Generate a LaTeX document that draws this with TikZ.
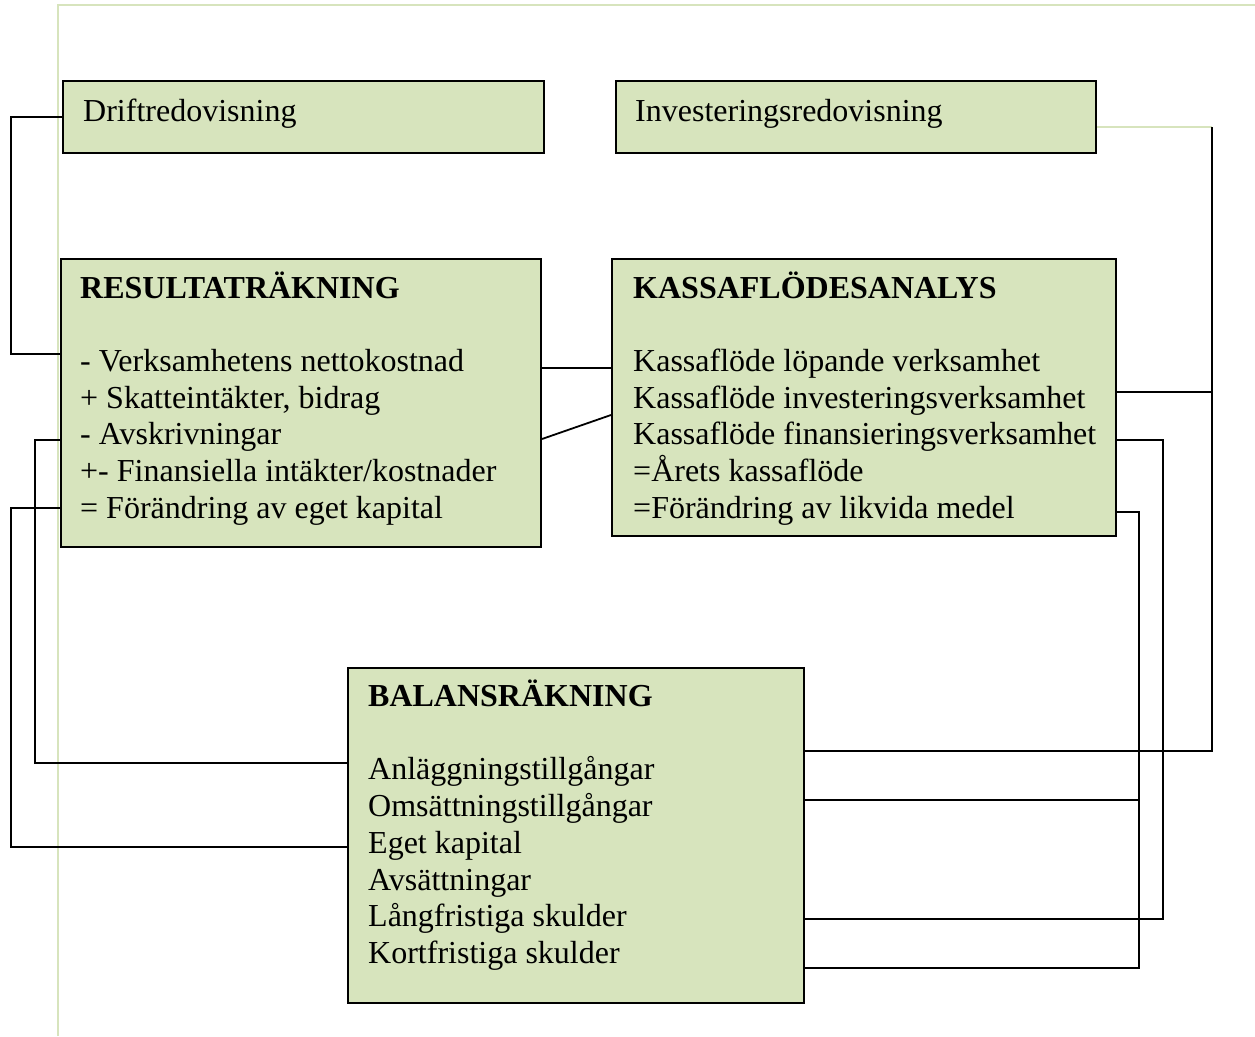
\documentclass[tikz,border=0pt]{standalone}
\usepackage{fontspec}
\setmainfont{Liberation Serif}
\definecolor{boxfill}{RGB}{215,228,189}
\definecolor{pageline}{RGB}{215,228,189}
\begin{document}
\begin{tikzpicture}[x=1pt,y=-1pt,
  box/.style={draw=black,line width=2pt,fill=boxfill,rectangle,inner sep=0pt,anchor=north west},
  txt/.style={anchor=base west,inner sep=0pt,font=\fontsize{32}{37}\selectfont},
  ttl/.style={anchor=base west,inner sep=0pt,font=\fontsize{32}{37}\selectfont\bfseries},
  conn/.style={draw=black,line width=1.8pt},
  lconn/.style={draw=pageline,line width=2pt}]
\useasboundingbox (0,0) rectangle (1255,1036);
% page border
\draw[lconn] (58,1036) -- (58,5) -- (1255,5);
% boxes
\node[box,minimum width=481pt,minimum height=72pt] (drift) at (62,80) {};
\node[box,minimum width=480pt,minimum height=72pt] (inv) at (615,80) {};
\node[box,minimum width=480pt,minimum height=288pt] (res) at (60,258) {};
\node[box,minimum width=504pt,minimum height=277pt] (kas) at (611,258) {};
\node[box,minimum width=456pt,minimum height=335pt] (bal) at (347,667) {};
% texts
\node[txt] (tdrift) at (83,121) {Driftredovisning};
\node[txt] (tinv) at (635,121) {Investeringsredovisning};
\node[ttl] (tres) at (80,298) {RESULTATRÄKNING};
\node[txt] (r1) at (80,371) {- Verksamhetens nettokostnad};
\node[txt] (r2) at (80,408) {+ Skatteintäkter, bidrag};
\node[txt] (r3) at (80,444) {- Avskrivningar};
\node[txt] (r4) at (80,481) {+- Finansiella intäkter/kostnader};
\node[txt] (r5) at (80,518) {= Förändring av eget kapital};
\node[ttl] (tkas) at (633,298) {KASSAFLÖDESANALYS};
\node[txt] (k1) at (633,371) {Kassaflöde löpande verksamhet};
\node[txt] (k2) at (633,408) {Kassaflöde investeringsverksamhet};
\node[txt] (k3) at (633,444) {Kassaflöde finansieringsverksamhet};
\node[txt] (k4) at (633,481) {=Årets kassaflöde};
\node[txt] (k5) at (633,518) {=Förändring av likvida medel};
\node[ttl] (tbal) at (368,706) {BALANSRÄKNING};
\node[txt] (b1) at (368,779) {Anläggningstillgångar};
\node[txt] (b2) at (368,816) {Omsättningstillgångar};
\node[txt] (b3) at (368,853) {Eget kapital};
\node[txt] (b4) at (368,890) {Avsättningar};
\node[txt] (b5) at (368,926) {Långfristiga skulder};
\node[txt] (b6) at (368,963) {Kortfristiga skulder};
% connectors
\draw[conn] (drift.west) -- (drift.west -| 11,0) -- (11,354) -- (res.west |- 0,354);
\draw[conn] (res.east |- 0,368) -- (kas.west |- 0,368);
\draw[conn] (res.east |- 0,439) -- (kas.west |- 0,415);
\draw[conn] (res.west |- 0,440) -- (35,440) -- (35,763) -- (bal.west |- 0,763);
\draw[conn] (res.west |- 0,508) -- (11,508) -- (11,847) -- (bal.west |- 0,847);
\coordinate (invc) at (1212,127);
\draw[lconn] (inv.east |- 0,127) -- (invc);
\draw[conn] (invc) -- (1212,751) -- (bal.east |- 0,751);
\draw[conn] (kas.east |- 0,392) -- (1212,392);
\draw[conn] (kas.east |- 0,440) -- (1163,440) -- (1163,919) -- (bal.east |- 0,919);
\draw[conn] (kas.east |- 0,512) -- (1139,512) -- (1139,968) -- (bal.east |- 0,968);
\draw[conn] (bal.east |- 0,800) -- (1139,800);
\end{tikzpicture}
\end{document}
